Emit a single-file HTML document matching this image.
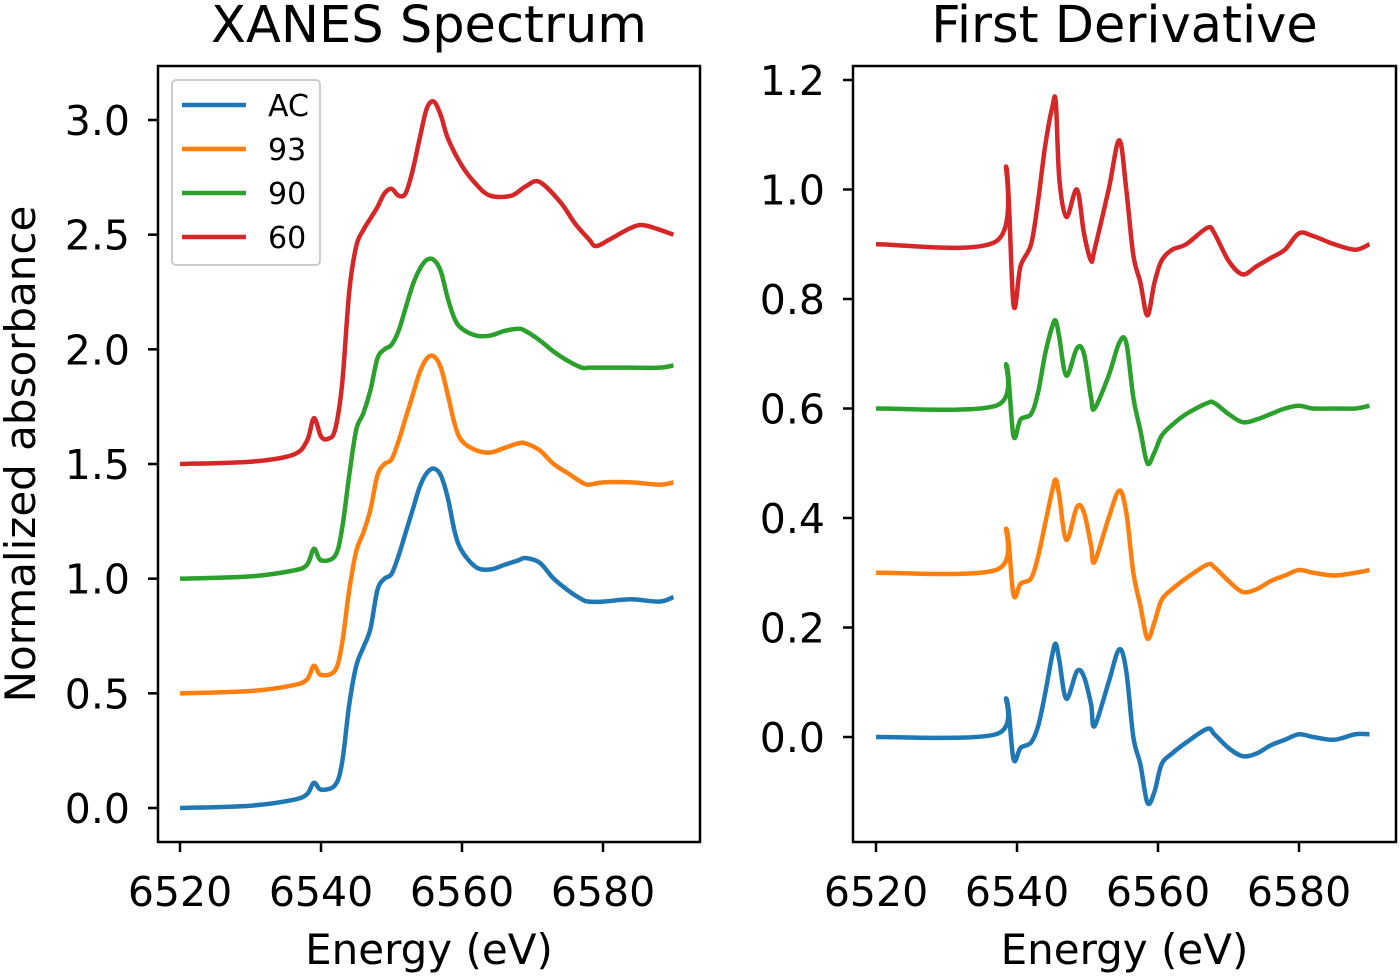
<!DOCTYPE html>
<html><head><meta charset="utf-8"><style>
body{margin:0;background:#fff}
svg text{font-family:"DejaVu Sans","Liberation Sans",sans-serif;fill:#000}
</style></head><body>
<svg id="c" width="1400" height="975" xmlns="http://www.w3.org/2000/svg"></svg>
<script>
const colors=["#1f77b4","#ff7f0e","#2ca02c","#d62728"];
const seriesNames=["AC","93","90","60"];
const xTicks=[6520,6540,6560,6580];
const leftYTicks=[0,0.5,1.0,1.5,2.0,2.5,3.0];
const rightYTicks=[0,0.2,0.4,0.6,0.8,1.0,1.2];
const eL=[6520,6530,6536,6538,6539,6540,6542,6543,6544,6545,6546,6547,6548,6549,6550,6551,6552,6553,6554,6555,6556,6557,6558,6559,6560,6562,6564,6566,6568,6569,6571,6573,6575,6577,6578,6580,6584,6588,6590];
const xanesAC=[0,0.01,0.035,0.06,0.11,0.08,0.1,0.2,0.45,0.62,0.7,0.78,0.95,1.0,1.02,1.1,1.2,1.3,1.4,1.46,1.48,1.45,1.35,1.2,1.12,1.05,1.04,1.06,1.08,1.09,1.07,1.0,0.95,0.91,0.9,0.9,0.91,0.9,0.92];
const xanes93=[0.5,0.51,0.535,0.56,0.62,0.58,0.6,0.72,0.95,1.12,1.2,1.3,1.45,1.5,1.52,1.6,1.7,1.8,1.9,1.96,1.97,1.92,1.8,1.67,1.6,1.56,1.55,1.57,1.59,1.59,1.56,1.5,1.46,1.42,1.41,1.42,1.42,1.41,1.42];
const xanes90=[1.0,1.01,1.035,1.06,1.13,1.08,1.1,1.22,1.45,1.65,1.72,1.82,1.96,2.0,2.02,2.08,2.18,2.28,2.35,2.39,2.39,2.34,2.22,2.13,2.09,2.06,2.06,2.08,2.09,2.08,2.04,1.99,1.95,1.92,1.92,1.92,1.92,1.92,1.93];
const eR60=[6520,6530,6536,6538,6539,6540,6541,6542,6543,6544,6545,6546,6547,6548,6549,6550,6551,6552,6553,6554,6555,6556,6557,6558,6560,6562,6564,6567,6569,6571,6574,6576,6578,6579,6581,6584,6586,6590];
const xanes60=[1.5,1.51,1.54,1.6,1.7,1.62,1.61,1.65,1.85,2.25,2.45,2.52,2.57,2.62,2.68,2.70,2.67,2.68,2.78,2.92,3.05,3.08,3.02,2.92,2.8,2.72,2.67,2.67,2.71,2.73,2.64,2.55,2.48,2.45,2.48,2.53,2.54,2.5];
const eD=[6520,6537,6538.5,6539.5,6540.5,6542,6543,6544,6545,6545.5,6546,6547,6548.5,6549.5,6550.5,6551,6553,6554.5,6555.5,6556.5,6557.5,6558.5,6559.5,6560.5,6562,6564,6567,6568,6570,6572,6574,6576,6578,6580,6582,6585,6588,6590];
const derivAC=[0,0.005,0.07,-0.04,-0.02,-0.01,0.02,0.08,0.15,0.17,0.14,0.07,0.12,0.11,0.06,0.02,0.1,0.16,0.12,0.0,-0.05,-0.12,-0.1,-0.05,-0.03,-0.01,0.015,0.005,-0.02,-0.035,-0.03,-0.015,-0.005,0.005,0.0,-0.005,0.005,0.005];
const deriv93=[0.3,0.305,0.38,0.26,0.28,0.29,0.33,0.39,0.45,0.47,0.44,0.36,0.42,0.41,0.35,0.32,0.4,0.45,0.41,0.3,0.24,0.18,0.21,0.25,0.27,0.29,0.315,0.31,0.285,0.265,0.27,0.285,0.295,0.305,0.3,0.295,0.3,0.305];
const deriv90=[0.6,0.605,0.68,0.55,0.58,0.59,0.63,0.7,0.75,0.76,0.73,0.66,0.71,0.7,0.62,0.6,0.66,0.72,0.72,0.62,0.56,0.5,0.52,0.55,0.57,0.59,0.61,0.61,0.59,0.575,0.58,0.59,0.6,0.605,0.6,0.6,0.6,0.605];
const deriv60=[0.9,0.905,1.04,0.79,0.86,0.9,0.98,1.08,1.15,1.16,1.02,0.95,1.0,0.92,0.87,0.89,1.0,1.09,1.0,0.88,0.83,0.77,0.83,0.87,0.89,0.9,0.93,0.92,0.87,0.845,0.86,0.875,0.89,0.92,0.915,0.9,0.89,0.9];

const svg=document.getElementById('c');const NS="http://www.w3.org/2000/svg";
function mk(t,a,p){const e=document.createElementNS(NS,t);for(const k in a)e.setAttribute(k,a[k]);(p||svg).appendChild(e);return e;}
function lin(d0,d1,r0,r1){return v=>r0+(v-d0)*(r1-r0)/(d1-d0);}
function path(xs,ys,sx,sy){let d="";for(let i=0;i<xs.length;i++){const X=sx(xs[i]),Y=sy(ys[i]);if(i==0){d+="M"+X+","+Y;continue;}
const p0=[sx(xs[Math.max(i-2,0)]),sy(ys[Math.max(i-2,0)])],p1=[sx(xs[i-1]),sy(ys[i-1])],p3=[sx(xs[Math.min(i+1,xs.length-1)]),sy(ys[Math.min(i+1,xs.length-1)])];
d+=" C"+(p1[0]+(X-p0[0])/6)+","+(p1[1]+(Y-p0[1])/6)+" "+(X-(p3[0]-p1[0])/6)+","+(Y-(p3[1]-p1[1])/6)+" "+X+","+Y;}return d;}
function axes(name,x0,x1,y0,y1,sx,sy,yt,title,ylab){
 const g=mk('g',{});
 const fr=mk('rect',{x:x0,y:y0,width:x1-x0,height:y1-y0,fill:'none',stroke:'#000','stroke-width':2.5},g);
 
 xTicks.forEach(v=>{const X=sx(v);mk('line',{x1:X,x2:X,y1:y1,y2:y1+10,stroke:'#000','stroke-width':2.5},g);
  const t=mk('text',{x:X,y:y1+64,'text-anchor':'middle','font-size':41},g);t.textContent=v;
  });
 yt.forEach(v=>{const Y=sy(v);mk('line',{x1:x0-10,x2:x0,y1:Y,y2:Y,stroke:'#000','stroke-width':2.5},g);
  const t=mk('text',{x:x0-28,y:Y+15,'text-anchor':'end','font-size':41},g);t.textContent=v.toFixed(1);
  });
 const tt=mk('text',{x:(x0+x1)/2,y:y0-24,'text-anchor':'middle','font-size':51},g);tt.textContent=title;
 
 const xl=mk('text',{x:(x0+x1)/2,y:y1+122,'text-anchor':'middle','font-size':42},g);xl.textContent='Energy (eV)';
 
 if(ylab){const yl=mk('text',{x:0,y:0,'text-anchor':'middle','font-size':42,transform:'translate(35,'+((y0+y1)/2)+') rotate(-90)'},g);yl.textContent=ylab;
 }
 return g;}
// left
const sxL=lin(6520,6580,180,603), syL=lin(0,3,808,120);
const gL=axes('xanes-panel',158,700,66,842,sxL,syL,leftYTicks,'XANES Spectrum','Normalized absorbance');
[[eL,xanesAC],[eL,xanes93],[eL,xanes90],[eR60,xanes60]].forEach((s,i)=>{const p=mk('path',{d:path(s[0],s[1],sxL,syL),fill:'none',stroke:colors[i],'stroke-width':4.5,'stroke-linejoin':'round'},gL);
 });
// legend
const lg=mk('g',{},gL);
mk('rect',{x:172,y:80,width:148,height:185,rx:4,fill:'#fff','fill-opacity':0.8,stroke:'#ccc','stroke-width':2},lg);
seriesNames.forEach((n,i)=>{const Y=105+i*44;const e=mk('g',{},lg);
 mk('line',{x1:182,x2:246,y1:Y,y2:Y,stroke:colors[i],'stroke-width':4.5},e);
 const t=mk('text',{x:268,y:Y+11,'font-size':30},e);t.textContent=n;});
// right
const sxR=lin(6520,6580,876,1299), syR=lin(0,1.2,737,80);
const gR=axes('derivative-panel',853,1396,66,842,sxR,syR,rightYTicks,'First Derivative',null);
[derivAC,deriv93,deriv90,deriv60].forEach((s,i)=>{const p=mk('path',{d:path(eD,s,sxR,syR),fill:'none',stroke:colors[i],'stroke-width':4.5,'stroke-linejoin':'round'},gR);
 });
</script>
</body></html>
